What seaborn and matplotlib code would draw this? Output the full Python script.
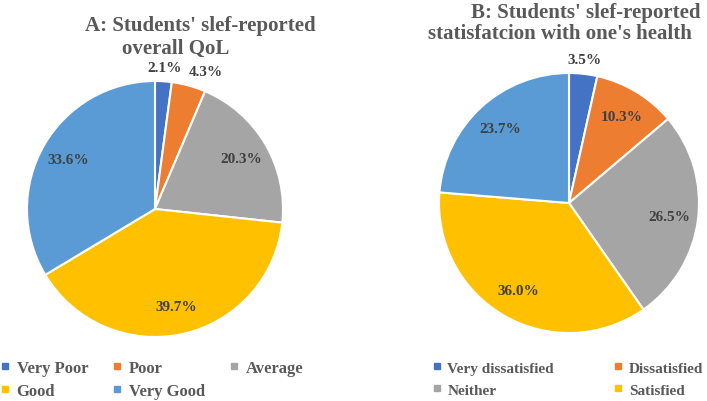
import matplotlib
matplotlib.use("Agg")
import matplotlib.pyplot as plt
import numpy as np
import seaborn as sns
from matplotlib.lines import Line2D

# data
qol_labels = ["Very Poor", "Poor", "Average", "Good", "Very Good"]
qol_values = [2.1, 4.3, 20.3, 39.7, 33.6]

health_labels = ["Very dissatisfied", "Dissatisfied", "Neither", "Satisfied", "Very satisfied"]
health_values = [3.5, 10.3, 26.5, 36.0, 23.7]

colors = ["#4472C4", "#ED7D31", "#A5A5A5", "#FFC000", "#5B9BD5"]

sns.set_theme(style="white")
plt.rcParams["font.family"] = ["Liberation Serif", "DejaVu Serif"]
plt.rcParams["font.weight"] = "bold"

W, H = 707, 402
fig = plt.figure(figsize=(W / 100, H / 100), dpi=100)


def px_axes(cx, cy, r):
    return fig.add_axes([(cx - r) / W, (H - cy - r) / H, 2 * r / W, 2 * r / H])


def draw_pie(ax, values):
    wedges, _ = ax.pie(
        values,
        colors=colors,
        startangle=90,
        counterclock=False,
        wedgeprops=dict(edgecolor="white", linewidth=1.5),
    )
    ax.set_xlim(-1, 1)
    ax.set_ylim(-1, 1)
    ax.set_aspect("equal")
    ax.axis("off")
    outside = []
    for w, v in zip(wedges, values):
        ang = np.deg2rad((w.theta1 + w.theta2) / 2)
        d = 0.78 if v > 5 else 1.11
        t = ax.text(d * np.cos(ang), d * np.sin(ang), f"{v:.1f}%",
                    ha="center", va="center", fontsize=11, fontweight="bold",
                    color="#404040")
        if v <= 5:
            outside.append(t)
    # push small outside labels apart so they do not overlap
    fig.canvas.draw()
    r = fig.canvas.get_renderer()
    last_right = None
    for t in outside:
        bb = t.get_window_extent(r)
        if last_right is not None and bb.x0 < last_right + 7:
            shift = last_right + 7 - bb.x0
            x, y = ax.transData.transform(t.get_position())
            t.set_position(ax.transData.inverted().transform((x + shift, y)))
            bb = t.get_window_extent(r)
        last_right = bb.x1


ax1 = px_axes(155, 210, 128)
draw_pie(ax1, qol_values)
ax2 = px_axes(569, 204, 130)
draw_pie(ax2, health_values)

title_kw = dict(fontsize=15, fontweight="bold", color="#595959", ha="center", va="baseline")
fig.text(200 / W, 1 - 31 / H, "A: Students' slef-reported", **title_kw)
fig.text(176 / W, 1 - 54 / H, "overall QoL", **title_kw)
fig.text(586 / W, 1 - 18 / H, "B: Students' slef-reported", **title_kw)
fig.text(560 / W, 1 - 39 / H, "statisfatcion with one's health", **title_kw)


def handles(labels, idx):
    return [Line2D([], [], marker="s", linestyle="none", markersize=5,
                   color=colors[i], label=labels[i]) for i in idx]


leg_kw = dict(frameon=False, borderpad=0, borderaxespad=0, handlelength=0.6,
              handletextpad=0.4, labelcolor="#595959", loc="upper left")
h1 = handles(qol_labels, [0, 3, 1, 4, 2])
fig.legend(handles=h1, ncol=3, columnspacing=1.45, labelspacing=0.42,
           prop=dict(size=12, weight="bold"),
           bbox_to_anchor=(0 / W, 1 - 361 / H), **leg_kw)
h2 = handles(health_labels, [0, 2, 1, 3])
fig.legend(handles=h2, ncol=2, columnspacing=3.9, labelspacing=0.55,
           prop=dict(size=11, weight="bold"),
           bbox_to_anchor=(432 / W, 1 - 362 / H), **leg_kw)

fig.savefig("out.png", dpi=100)
